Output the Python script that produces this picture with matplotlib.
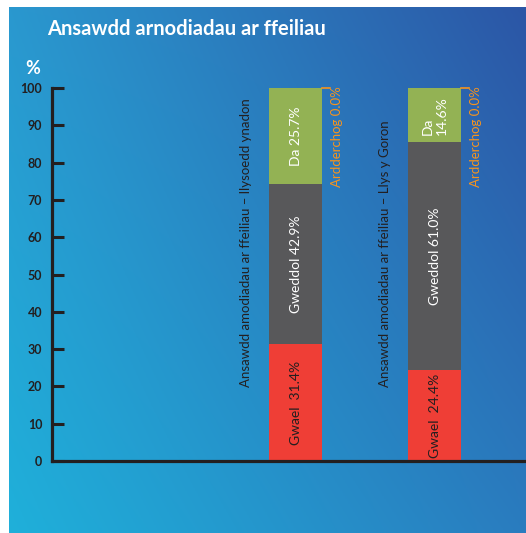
import matplotlib.pyplot as plt
import numpy as np
from matplotlib.colors import to_rgb

# data
courts = ['Ansawdd amodiadau ar ffeiliau – llysoedd ynadon',
          'Ansawdd amodiadau ar ffeiliau – Llys y Goron']
gwael = [31.4, 24.4]
gweddol = [42.9, 61.0]
da = [25.7, 14.6]
ardderchog = [0.0, 0.0]
gwael_labels = ['Gwael  31.4%', 'Gwael  24.4%']
gweddol_labels = ['Gweddol 42.9%', 'Gweddol 61.0%']
da_labels = ['Da 25.7%', 'Da\n14.6%']
ard_labels = ['Ardderchog 0.0%', 'Ardderchog 0.0%']
y_ticks = [0, 10, 20, 30, 40, 50, 60, 70, 80, 90, 100]

W, H = 526, 533
plt.rcParams['font.family'] = ['Lato', 'DejaVu Sans']

fig = plt.figure(figsize=(W / 100, H / 100), dpi=100)

# gradient background panel
bg = fig.add_axes([9 / W, 0, (W - 9) / W, (H - 7) / H])
tl, tr = np.array(to_rgb('#2a98cf')), np.array(to_rgb('#2c56a6'))
bl, br = np.array(to_rgb('#1fb0da')), np.array(to_rgb('#2a7cbf'))
u = np.linspace(0, 1, 200)[None, :, None]
v = np.linspace(0, 1, 200)[:, None, None]
grad = (1 - v) * ((1 - u) * tl + u * tr) + v * ((1 - u) * bl + u * br)
bg.imshow(grad, aspect='auto', extent=[0, 1, 0, 1])
bg.axis('off')

fig.text(47 / W, 1 - 29 / H, 'Ansawdd arnodiadau ar ffeiliau', color='white',
         fontsize=14.5, fontweight='bold', ha='left', va='center')
fig.text(33 / W, 1 - 69 / H, '%', color='white', fontsize=13,
         fontweight='bold', ha='center', va='center')

ax = fig.add_axes([52 / W, (H - 461) / H, (W - 52) / W, (461 - 88) / H])
ax.patch.set_alpha(0)

x = np.arange(len(courts))
bw = 0.38
ax.bar(x, gwael, bw, color='#ef3e36')
ax.bar(x, gweddol, bw, bottom=gwael, color='#58585a')
top2 = np.array(gwael) + np.array(gweddol)
ax.bar(x, da, bw, bottom=top2, color='#93b254')

for i in range(len(courts)):
    ax.text(x[i], gwael[i] / 2, gwael_labels[i], rotation=90, ha='center',
            va='center', color='#231f20', fontsize=10)
    ax.text(x[i], gwael[i] + gweddol[i] / 2, gweddol_labels[i], rotation=90,
            ha='center', va='center', color='white', fontsize=10)
    ax.text(x[i], top2[i] + da[i] / 2, da_labels[i], rotation=90, ha='center',
            va='center', color='white', fontsize=10, multialignment='left')
    top = top2[i] + da[i] + ardderchog[i]
    ax.plot([x[i] + bw / 2, x[i] + bw / 2 + 0.06], [top, top],
            color='#f7941d', lw=1.2, clip_on=False)
    ax.text(x[i] + 0.30, top + 0.5, ard_labels[i], rotation=90, ha='center',
            va='top', color='#f7941d', fontsize=9.5)
    ax.text(x[i] - 0.355, 19.8, courts[i], rotation=90, ha='center',
            va='bottom', color='#231f20', fontsize=9.5)

ax.set_xlim(-1.752, 1.658)
ax.set_ylim(0, 100)
ax.set_xticks([])
ax.set_yticks(y_ticks)
ax.tick_params(axis='y', direction='in', length=8.5, width=2.2,
               color='#231f20', pad=7, labelsize=9, labelcolor='#231f20')
for lab in ax.get_yticklabels():
    lab.set_fontweight('bold')
for s in ['top', 'right']:
    ax.spines[s].set_visible(False)
for s in ['left', 'bottom']:
    ax.spines[s].set_linewidth(2.3)
    ax.spines[s].set_color('#231f20')

fig.savefig('out.png', dpi=100)
